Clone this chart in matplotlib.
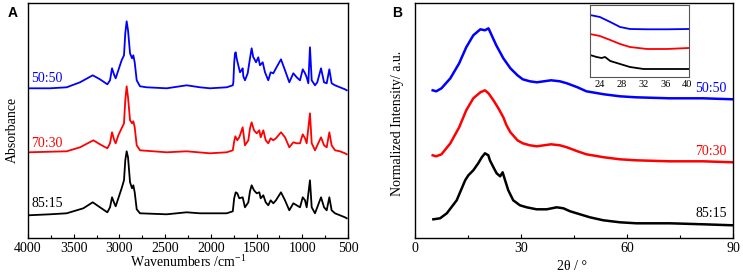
import matplotlib
matplotlib.use("Agg")
import matplotlib.pyplot as plt
from matplotlib.ticker import MultipleLocator

plt.rcParams['font.family'] = ['Liberation Serif', 'DejaVu Serif']
plt.rcParams['mathtext.fontset'] = 'custom'
plt.rcParams['mathtext.rm'] = 'Liberation Serif'
plt.rcParams['mathtext.it'] = 'Liberation Serif:italic'

# ---------------- Panel A: FTIR data ----------------
ftir_labels = ["50:50", "70:30", "85:15"]
ftir_colors = ["#0000ff", "#ff0000", "#000000"]

wn_5050 = [4000, 3759, 3577, 3431, 3292, 3213, 3132, 3103, 3081, 3056, 3041, 3012, 2976, 2950, 2936,
           2921, 2906, 2884, 2862, 2848, 2833, 2811, 2775, 2702, 2483, 2264, 2119, 2009, 1827, 1760,
           1754, 1745, 1736, 1728, 1718, 1700, 1681, 1665, 1652, 1645, 1627, 1597, 1572, 1554, 1536,
           1528, 1506, 1481, 1463, 1433, 1408, 1372, 1346, 1317,
           1288, 1233, 1189, 1142, 1098, 1061, 1025, 995, 970, 952, 934, 916, 897, 861, 836, 795, 762,
           733, 704, 679, 642, 588, 533, 514]
abs_5050 = [1.50, 1.50, 1.51, 1.56, 1.63, 1.59, 1.54, 1.58, 1.70, 1.63, 1.60, 1.68, 1.78, 1.83, 2.05,
            2.17, 2.08, 1.85, 1.80, 1.83, 1.76, 1.58, 1.52, 1.51, 1.50, 1.53, 1.51, 1.50, 1.51, 1.53,
            1.56, 1.75, 1.85, 1.86, 1.80, 1.73, 1.66, 1.68, 1.70, 1.62, 1.58, 1.65, 1.80, 1.90, 1.81,
            1.80, 1.76, 1.81, 1.73, 1.76, 1.66, 1.58, 1.66, 1.65,
            1.70, 1.79, 1.68, 1.56, 1.65, 1.61, 1.58, 1.69, 1.65, 1.61, 1.55, 1.91, 1.58, 1.53, 1.56,
            1.70, 1.56, 1.55, 1.69, 1.55, 1.53, 1.51, 1.49, 1.48]

wn_7030 = [4000, 3577, 3431, 3285, 3213, 3132, 3103, 3081, 3056, 3041, 3012, 2976, 2950, 2936, 2921,
           2906, 2884, 2862, 2848, 2833, 2811, 2775, 2483, 2264, 2009, 1827, 1760, 1745, 1732, 1711, 1689,
           1652, 1627, 1590, 1572, 1554, 1528, 1499, 1470, 1455, 1426, 1400, 1372, 1346, 1317, 1288, 1233,
           1189, 1142, 1098, 1061, 1025, 995, 970, 952, 916, 897, 861, 795, 762, 733, 704, 679, 642,
           588, 533, 514]
abs_7030 = [0.86, 0.87, 0.91, 0.98, 0.94, 0.90, 0.95, 1.06, 0.98, 0.95, 1.03, 1.10, 1.15, 1.38, 1.52,
            1.41, 1.18, 1.15, 1.17, 1.11, 0.93, 0.88, 0.86, 0.87, 0.85, 0.86, 0.88, 0.97, 1.02, 0.98, 1.01,
            1.11, 0.93, 0.98, 1.10, 1.16, 1.08, 1.05, 1.08, 1.01, 1.08, 0.98, 0.95, 1.00, 0.98, 1.00, 1.06,
            1.01, 0.91, 0.96, 0.95, 0.95, 1.04, 1.00, 0.95, 1.25, 0.95, 0.88, 1.01, 0.93, 0.91, 1.06,
            0.93, 0.88, 0.87, 0.85, 0.84]

wn_8515 = [4000, 3759, 3577, 3395, 3292, 3213, 3132, 3103, 3081, 3056, 3041, 3012, 2976, 2950, 2936,
           2921, 2906, 2884, 2862, 2848, 2833, 2811, 2775, 2483, 2264, 2119, 1827, 1760, 1745, 1728, 1711,
           1689, 1652, 1627, 1590, 1572, 1554, 1528, 1499, 1470, 1455, 1426, 1400, 1372, 1346, 1317, 1288,
           1233, 1189, 1142, 1098, 1061, 1025, 995, 970, 952, 916, 897, 861, 795, 762, 733, 704, 679,
           642, 588, 533, 514]
abs_8515 = [0.23, 0.24, 0.25, 0.30, 0.36, 0.31, 0.26, 0.31, 0.41, 0.35, 0.32, 0.40, 0.50, 0.58, 0.78,
            0.87, 0.81, 0.56, 0.50, 0.53, 0.46, 0.29, 0.25, 0.24, 0.26, 0.25, 0.25, 0.27, 0.40, 0.46, 0.45,
            0.40, 0.41, 0.31, 0.36, 0.47, 0.53, 0.48, 0.45, 0.46, 0.40, 0.43, 0.36, 0.33, 0.38, 0.35, 0.38,
            0.46, 0.38, 0.28, 0.35, 0.33, 0.31, 0.41, 0.38, 0.31, 0.58, 0.31, 0.25, 0.41, 0.31, 0.28,
            0.41, 0.28, 0.25, 0.23, 0.21, 0.20]

ftir_label_y = [1.60, 0.95, 0.35]

# ---------------- Panel B: XRD data ----------------
tt_5050 = [5, 6, 7.5, 10, 12.5, 14.5, 16.5, 18.5, 19.8, 20.8, 21.7, 23, 25, 27, 29, 30.5, 32.5, 34.5,
           36.5, 38.5, 41, 43, 46, 48.5, 53.5, 58, 62.5, 72, 81.5, 90]
int_5050 = [1.48, 1.47, 1.50, 1.60, 1.75, 1.91, 2.03, 2.09, 2.08, 2.10, 2.03, 1.93, 1.80, 1.70, 1.63,
            1.59, 1.57, 1.56, 1.57, 1.58, 1.57, 1.55, 1.51, 1.47, 1.44, 1.42, 1.41, 1.40, 1.40, 1.39]

tt_7030 = [5, 6, 7.5, 10, 12.5, 14.5, 16.5, 18.5, 19.8, 20.8, 22.2, 23.6, 25, 25.9, 27, 29, 30.5, 32.5,
           34.5, 36.5, 38.5, 41, 43, 46, 48.5, 53.5, 58, 62.5, 72, 81.5, 90]
int_7030 = [0.83, 0.82, 0.84, 0.95, 1.11, 1.28, 1.40, 1.46, 1.48, 1.45, 1.38, 1.30, 1.21, 1.13, 1.06,
            0.98, 0.95, 0.93, 0.92, 0.93, 0.94, 0.93, 0.91, 0.87, 0.84, 0.81, 0.79, 0.78, 0.77, 0.77, 0.76]

tt_8515 = [5.2, 7.1, 9.0, 11.8, 14.2, 15.1, 16.5, 17.9, 18.9, 19.8, 20.75, 21.2, 22.2, 23.1, 24.1, 24.8,
           25.5, 26.4, 27.8, 29.7, 31.6, 34.4, 37.3, 40.1, 42.0, 43.9, 46.7, 49.5, 53.3, 58.0, 62.7,
           72.2, 81.6, 90]
int_8515 = [0.19, 0.20, 0.25, 0.38, 0.58, 0.63, 0.68, 0.75, 0.81, 0.85, 0.83, 0.78, 0.71, 0.65, 0.62,
            0.66, 0.58, 0.48, 0.38, 0.33, 0.31, 0.29, 0.29, 0.31, 0.30, 0.27, 0.24, 0.21, 0.18, 0.16,
            0.15, 0.15, 0.14, 0.13]

xrd_label_y = [1.50, 0.87, 0.25]

# inset (zoomed 22-40 deg)
inset_tt = [22.2, 24.0, 25.9, 27.7, 29.5, 32.6, 36.3, 40.2]
inset_5050 = [0.62, 0.60, 0.55, 0.50, 0.48, 0.477, 0.477, 0.48]
inset_7030 = [0.43, 0.41, 0.37, 0.33, 0.30, 0.28, 0.28, 0.29]
inset_tt_8515 = [22.2, 23.4, 24.3, 24.95, 25.9, 27.7, 29.5, 32.0, 36.3, 40.2]
inset_8515 = [0.22, 0.20, 0.19, 0.20, 0.16, 0.13, 0.10, 0.08, 0.08, 0.08]

# ---------------- Figure ----------------
W, H = 743, 274
fig = plt.figure(figsize=(W / 100, H / 100), dpi=100)


def rect(l, t, r, b):
    return [l / W, 1 - b / H, (r - l) / W, (b - t) / H]


def style_axes(ax):
    for s in ax.spines.values():
        s.set_linewidth(1.0)
    ax.tick_params(axis='x', which='major', direction='in', length=3, width=0.8,
                   labelsize=10, pad=3)
    ax.tick_params(axis='x', which='minor', direction='in', length=2, width=0.8)
    ax.tick_params(axis='y', which='both', left=False, labelleft=False)


# Panel A
axA = fig.add_axes(rect(28, 3.3, 348, 238.3))
ftir_wn = [wn_5050, wn_7030, wn_8515]
ftir_abs = [abs_5050, abs_7030, abs_8515]
for wn, a, c, lab, ly in zip(ftir_wn, ftir_abs, ftir_colors, ftir_labels, ftir_label_y):
    axA.plot(wn, a, color=c, lw=1.3, solid_joinstyle='round')
    axA.text(3965, ly, lab, color=c, fontsize=10, ha='left', va='center')
axA.set_xlim(4000, 500)
axA.set_ylim(0, 2.35)
axA.xaxis.set_major_locator(MultipleLocator(500))
axA.xaxis.set_minor_locator(MultipleLocator(250))
style_axes(axA)
fig.text(188 / W, 1 - 262 / H, r"Wavenumbers /cm$^{-1}$", ha='center', va='center', fontsize=10)
fig.text(12.5 / W, 1 - 130 / H, "Absorbance", rotation=90, ha='center', va='center', fontsize=10)
fig.text(12.5 / W, 1 - 13 / H, "A", family='Liberation Sans', weight='bold', fontsize=10,
         ha='center', va='center')

# Panel B
axB = fig.add_axes(rect(415, 3.3, 733, 238.3))
xrd_tt = [tt_5050, tt_7030, tt_8515]
xrd_int = [int_5050, int_7030, int_8515]
for t, i, c, lab, ly in zip(xrd_tt, xrd_int, ftir_colors, ftir_labels, xrd_label_y):
    axB.plot(t, i, color=c, lw=1.8)
    axB.text(88.3, ly, lab, color=c, fontsize=10, ha='right', va='center')
axB.set_xlim(0, 90)
axB.set_ylim(0, 2.35)
axB.xaxis.set_major_locator(MultipleLocator(30))
axB.xaxis.set_minor_locator(MultipleLocator(15))
style_axes(axB)
fig.text(572 / W, 1 - 266 / H, "2θ / °", ha='center', va='center', fontsize=10)
fig.text(398 / W, 1 - 123 / H, "Normalized Intensity/ a.u.", rotation=90, ha='center',
         va='center', fontsize=10)
fig.text(396.7 / W, 1 - 13 / H, "B", family='Liberation Sans', weight='bold', fontsize=10,
         ha='center', va='center')

# Inset
axI = fig.add_axes(rect(590, 5, 688.5, 77))
axI.plot(inset_tt, inset_5050, color=ftir_colors[0], lw=1.3)
axI.plot(inset_tt, inset_7030, color=ftir_colors[1], lw=1.3)
axI.plot(inset_tt_8515, inset_8515, color=ftir_colors[2], lw=1.3)
axI.set_xlim(22.2, 40.2)
axI.set_ylim(0, 0.72)
axI.set_xticks([24, 28, 32, 36, 40])
for s in axI.spines.values():
    s.set_linewidth(0.8)
    s.set_color('#555555')
axI.tick_params(axis='x', length=0, labelsize=7.5, pad=2)
axI.tick_params(axis='y', left=False, labelleft=False)

fig.savefig("out.png", dpi=100)
